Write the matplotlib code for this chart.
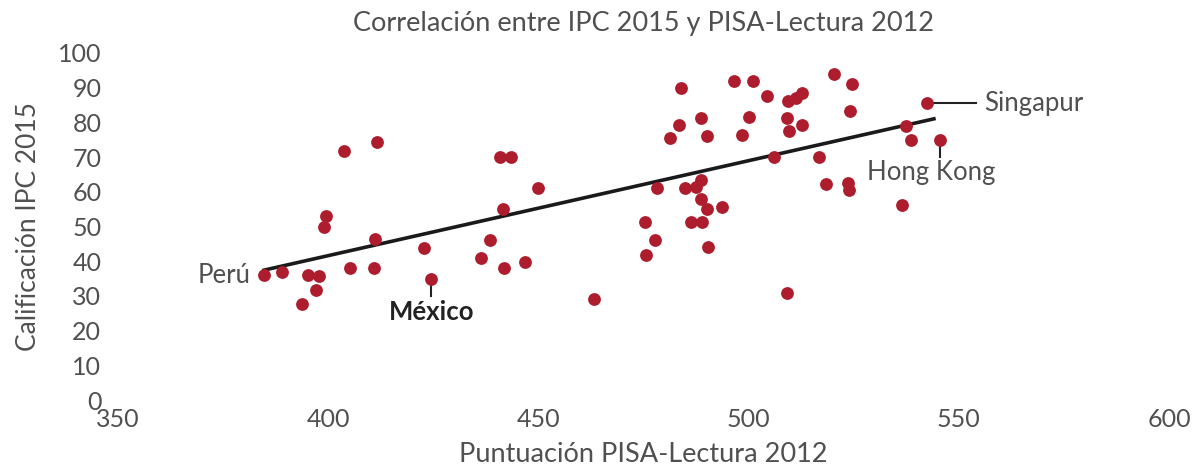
import numpy as np
import matplotlib.pyplot as plt

# PISA-Lectura 2012 (x) vs Calificacion IPC 2015 (y)
pisa = [384.8, 389.1, 393.8, 395.1, 397.7, 397.0, 399.1, 399.4, 403.8, 411.5,
        411.2, 405.1, 411.0, 440.8, 443.6, 449.9, 441.5, 422.9, 438.6, 436.4,
        441.8, 446.7, 424.5, 463.3,
        484.0, 496.5, 501.0, 520.3, 524.5, 504.4, 509.4, 511.2, 512.6, 483.5,
        488.6, 500.0, 509.2, 512.6, 524.1, 481.2, 490.1, 498.4, 509.7, 506.1,
        516.8, 478.2, 484.9, 487.6, 488.7, 488.6, 490.2, 493.7, 475.4, 486.2,
        488.9, 477.8, 475.7, 490.3, 509.1, 518.4, 523.6, 524.0,
        542.5, 537.4, 538.7, 545.5, 536.5]
ipc = [36.0, 37.0, 27.8, 35.9, 35.8, 31.8, 49.9, 53.1, 71.8, 74.4,
       46.4, 38.1, 38.0, 70.1, 70.1, 61.2, 55.0, 43.9, 46.1, 41.0,
       38.0, 39.9, 35.0, 29.1,
       89.9, 91.8, 92.0, 93.9, 91.0, 87.6, 86.3, 86.9, 88.6, 79.3,
       81.3, 81.5, 81.3, 79.3, 83.4, 75.4, 76.1, 76.3, 77.6, 69.9,
       70.1, 61.0, 61.1, 61.3, 63.3, 58.0, 54.9, 55.7, 51.4, 51.2,
       51.2, 46.0, 41.8, 44.0, 30.7, 62.2, 62.4, 60.6,
       85.5, 79.0, 74.9, 74.9, 56.1]

xticks = [350, 400, 450, 500, 550, 600]
yticks = list(range(0, 101, 10))

red = '#AD1D2D'
grey = '#505050'

plt.rcParams['font.family'] = ['Lato', 'DejaVu Sans']

fig = plt.figure(figsize=(12, 4.75), dpi=100)
ax = fig.add_axes([118/1200, 75/475, (1169-118)/1200, (400-53)/475])

ax.scatter(pisa, ipc, s=85, color=red, zorder=3, linewidths=0)

# tendencia lineal
m, b = np.polyfit(pisa, ipc, 1)
xl = np.array([min(pisa) - 0.5, max(pisa) - 1])
ax.plot(xl, m*xl + b, color='#1a1a1a', lw=2.6, zorder=2, solid_capstyle='butt')

ax.set_xlim(350, 600)
ax.set_ylim(0, 100)
ax.set_xticks(xticks)
ax.set_yticks(yticks)
ax.tick_params(length=0, labelsize=18, colors=grey, pad=12)
ax.tick_params(axis='x', pad=6)
for s in ax.spines.values():
    s.set_visible(False)

ax.set_title('Correlación entre IPC 2015 y PISA-Lectura 2012', fontsize=19.5,
             color=grey, pad=16)
ax.set_xlabel('Puntuación PISA-Lectura 2012', fontsize=19.5, color=grey, labelpad=8)
ax.set_ylabel('Calificación IPC 2015', fontsize=19, color=grey, labelpad=12)

# anotaciones
ax.text(381.5, 36.0, 'Perú', fontsize=18.5, color=grey, ha='right', va='center')
ax.plot([424.5, 424.5], [33.0, 30.0], color='#222222', lw=1.5)
ax.text(424.5, 25.5, 'México', fontsize=18.5, color='#222222', ha='center',
        va='center', fontweight='bold')
ax.plot([543.5, 554.0], [85.5, 85.5], color='#222222', lw=1.5)
ax.text(556.0, 85.5, 'Singapur', fontsize=18.5, color=grey, ha='left', va='center')
ax.plot([545.5, 545.5], [73.0, 70.0], color='#222222', lw=1.5)
ax.text(543.5, 65.5, 'Hong Kong', fontsize=18.5, color=grey, ha='center', va='center')

fig.savefig('out.png', dpi=100)
